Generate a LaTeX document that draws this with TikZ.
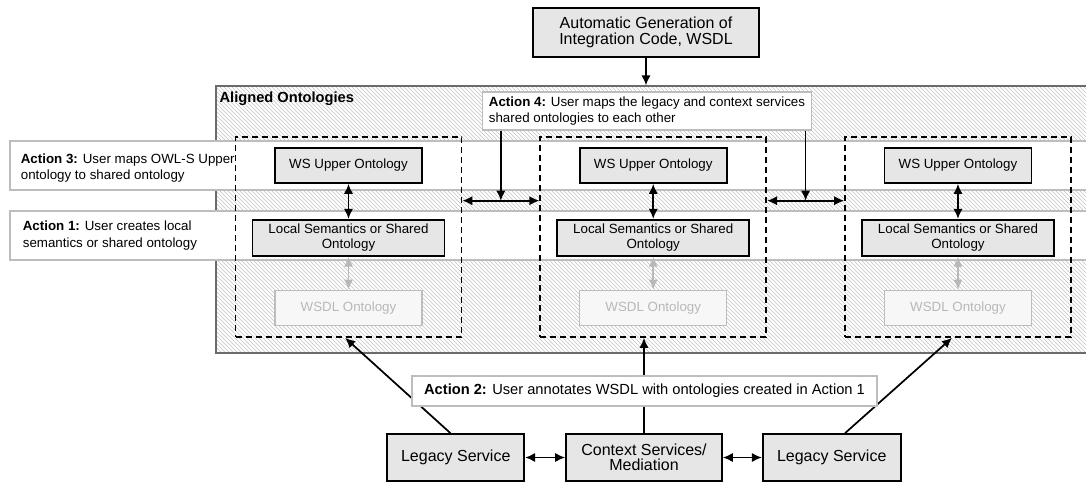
\documentclass[tikz,border=0pt]{standalone}
\usepackage{fontspec}
\setmainfont{Liberation Sans}
\usepackage{tikz}
\usetikzlibrary{arrows.meta,positioning,calc,patterns}

\definecolor{boxgray}{HTML}{E6E6E6}
\definecolor{edgegray}{HTML}{BDBDBD}
\definecolor{framegray}{HTML}{6B6B6B}
\definecolor{hatchgray}{HTML}{C4C4C4}
\definecolor{fadegray}{HTML}{B8B8B8}

\begin{document}
\begin{tikzpicture}[
  x=0.75pt, y=-0.75pt,
  font=\fontsize{10}{11}\selectfont,
  blk/.style={draw, line width=1.3pt, fill=boxgray, align=center, inner sep=1pt},
  upper/.style={blk, minimum width=110.25pt, minimum height=26.25pt},
  local/.style={blk, minimum width=144pt, minimum height=27pt},
  wsdl/.style={draw=edgegray, line width=1pt, fill=gray!6, text=fadegray, minimum width=110.25pt, minimum height=26.25pt},
  svc/.style={blk, font=\fontsize{12}{11.5}\selectfont, minimum height=35.25pt},
  grp/.style={draw, dash pattern=on 4.5pt off 3pt, line width=1.3pt, minimum width=169.5pt, minimum height=150pt},
  band/.style={draw=edgegray, line width=0.8pt, fill=white, minimum width=808.5pt, minimum height=36.75pt},
  note/.style={draw=edgegray, line width=0.8pt, fill=white},
  lab/.style={align=left, font=\fontsize{10}{12.5}\selectfont},
  arr/.style={-{Latex[length=7.5pt,width=7pt]}, line width=1.3pt},
  dbl/.style={{Latex[length=7.5pt,width=7pt]}-{Latex[length=7.5pt,width=7pt]}, line width=1.3pt}
]
\useasboundingbox (0,0) rectangle (1086,483);
\fill[white] (0,0) rectangle (1086,483);

% Aligned ontologies frame
\node[draw=framegray, line width=1pt, pattern=north west lines, pattern color=hatchgray,
  minimum width=654pt, minimum height=200.25pt, inner sep=0pt] (aligned) at (652,219.5) {};
\node[font=\bfseries\fontsize{11}{13}\selectfont, anchor=north west, inner sep=3pt] (alTitle) at ([yshift=-2pt]aligned.north west) {Aligned Ontologies};

% Action bands
\node[band] (band3) at (549,165.5) {};
\node[band] (band1) at (549,235.5) {};
\node[lab, anchor=west] (act3) at ([xshift=5pt, yshift=-2pt]band3.west) {\textbf{Action 3:} User maps OWL-S Upper\\ontology to shared ontology};
\node[lab, anchor=west] (act1) at ([xshift=6.5pt]band1.west) {\textbf{Action 1:} User creates local\\semantics or shared ontology};

% Service ontology groups
\node[grp] (grpL) at (348.5,237) {};
\node[grp, right=57.75pt of grpL] (grpM) {};
\node[grp, right=57.75pt of grpM] (grpR) {};

\node[upper, below=8.25pt of grpL.north] (upL) {WS Upper Ontology};
\node[local, below=26.25pt of upL] (locL) {Local Semantics or Shared\\Ontology};
\node[wsdl, below=24.75pt of locL] (wsdlL) {WSDL Ontology};

\node[upper, below=8.25pt of grpM.north] (upM) {WS Upper Ontology};
\node[local, below=26.25pt of upM] (locM) {Local Semantics or Shared\\Ontology};
\node[wsdl, below=24.75pt of locM] (wsdlM) {WSDL Ontology};

\node[upper, below=8.25pt of grpR.north] (upR) {WS Upper Ontology};
\node[local, below=26.25pt of upR] (locR) {Local Semantics or Shared\\Ontology};
\node[wsdl, below=24.75pt of locR] (wsdlR) {WSDL Ontology};

\draw[dbl] (upL) -- (locL);
\draw[dbl] (upM) -- (locM);
\draw[dbl] (upR) -- (locR);
\draw[dbl, fadegray] (locL) -- (wsdlL);
\draw[dbl, fadegray] (locM) -- (wsdlM);
\draw[dbl, fadegray] (locR) -- (wsdlR);

% Action 4: mapping between groups
\coordinate (lmA) at ($(grpL.north east)!0.32!(grpL.south east)$);
\coordinate (lmB) at ($(grpM.north west)!0.32!(grpM.south west)$);
\coordinate (lmC) at ($(lmA)!0.5!(lmB)$);
\coordinate (mrA) at ($(grpM.north east)!0.32!(grpM.south east)$);
\coordinate (mrB) at ($(grpR.north west)!0.32!(grpR.south west)$);
\coordinate (mrC) at ($(mrA)!0.5!(mrB)$);
\draw[dbl] (lmA) -- (lmB);
\draw[dbl] (mrA) -- (mrB);

\node[note, lab, inner xsep=5pt, minimum width=246pt, minimum height=28.5pt] (act4) at (647,111) {\textbf{Action 4:} User maps the legacy and context services\\shared ontologies to each other};
\draw[arr] (act4.south -| lmC) -- (lmC);
\draw[arr] (act4.south -| mrC) -- (mrC);

% Code generation
\node[blk, minimum width=169.5pt, minimum height=36.75pt, font=\fontsize{12}{12.5}\selectfont] (gen) at (646,32.5) {Automatic Generation of\\Integration Code, WSDL};
\draw[arr] (gen) -- (gen |- aligned.north);

% Services
\node[svc, minimum width=117pt] (ctx) at (644,457.5) {Context Services/\\Mediation};
\node[svc, minimum width=102.75pt, left=30pt of ctx] (legL) {Legacy Service};
\node[svc, minimum width=103.5pt, right=29.25pt of ctx] (legR) {Legacy Service};

\draw[dbl] (legL) -- (ctx);
\draw[dbl] (ctx) -- (legR);
\draw[arr] (ctx.north) -- (ctx.north |- grpM.south);
\draw[arr] ([xshift=-4pt]legL.north) -- ([xshift=-2.5pt]grpL.south);
\draw[arr] ([xshift=10pt]legR.north) -- ([xshift=-4.5pt]grpR.south);

% Action 2 annotation
\node[note, font=\fontsize{11}{12}\selectfont, inner xsep=4pt, minimum width=348.75pt, minimum height=22.5pt] (act2) at (644.5,391) {\textbf{Action 2:} User annotates WSDL with ontologies created in Action 1};

\end{tikzpicture}
\end{document}
